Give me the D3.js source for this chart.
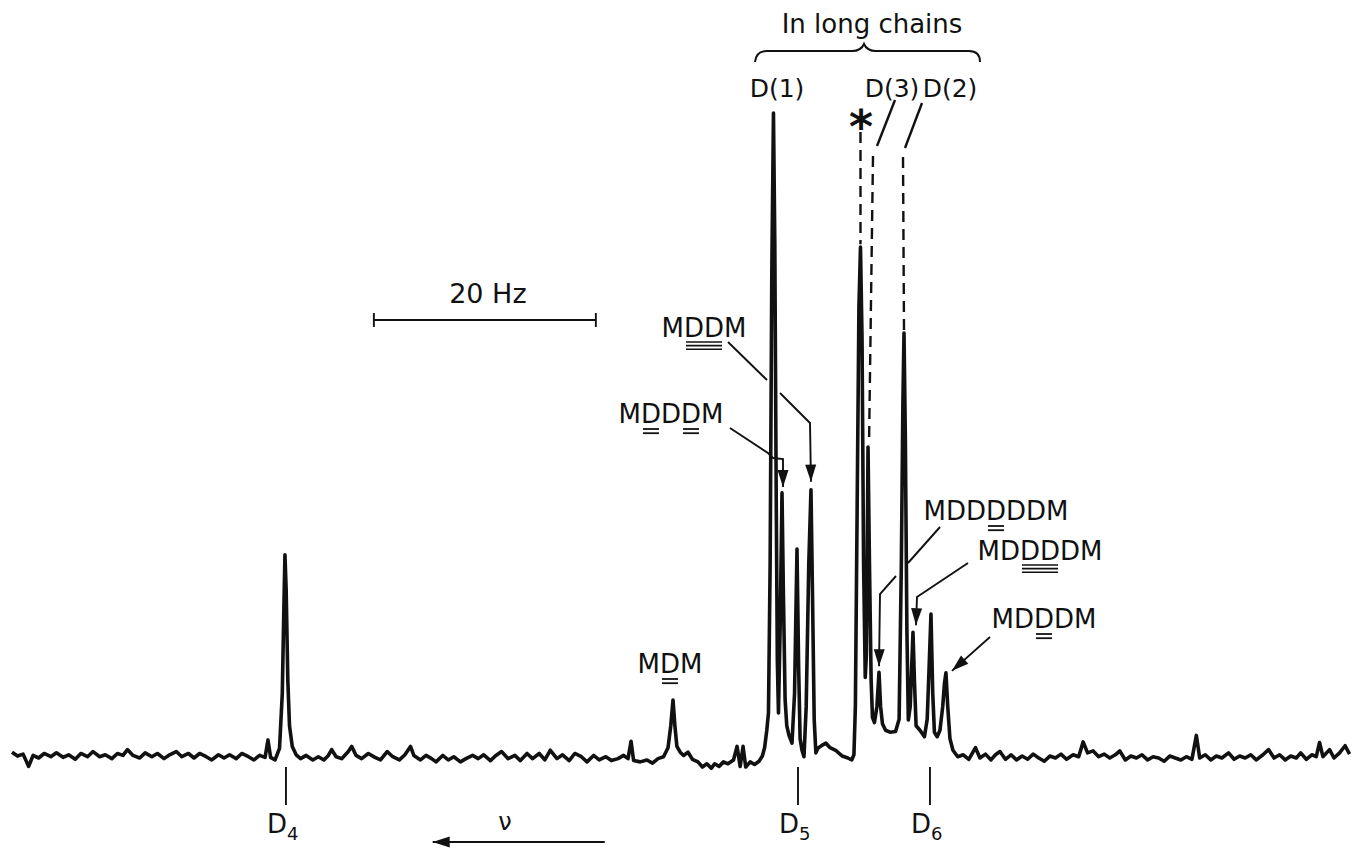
<!DOCTYPE html>
<html>
<head>
<meta charset="utf-8">
<script src="https://cdn.jsdelivr.net/npm/d3@7"></script>
<style>
  body { margin: 0; background: #fff; }
  text { font-family: "DejaVu Sans", sans-serif; fill: #111; }
</style>
</head>
<body>
<div id="chart"></div>
<script>
// spectrum trace: [frequency offset in Hz, relative intensity]
var spectrum = [
  [0.0,0.9],[0.5,0.3],[1.0,0.6],[1.5,-1.3],[1.9,0.4],[2.4,0.0],[2.9,0.7],[3.5,0.2],[4.0,0.8],[4.6,0.1],
  [5.1,0.5],[5.7,-0.2],[6.2,0.7],[6.8,0.2],[7.3,1.0],[7.9,0.2],[8.4,0.5],[9.0,-0.1],[9.5,0.7],[10.0,0.4],
  [10.4,1.3],[10.9,0.4],[11.5,0.0],[12.0,0.8],[12.6,0.2],[13.1,0.7],[13.7,-0.1],[14.2,0.5],[14.8,1.0],[15.3,0.2],
  [15.9,0.7],[16.4,0.0],[16.9,0.7],[17.5,0.2],[18.0,-0.3],[18.6,0.5],[19.1,0.0],[19.6,0.5],[20.2,-0.1],[20.7,0.7],
  [21.3,0.2],[21.8,-0.3],[22.3,0.4],[22.8,0.1],[23.06,2.8],[23.3,0.1],[23.7,-0.3],[24.1,1.5],[24.35,10],[24.5,24],
  [24.59,31.5],[24.7,26],[24.85,12],[25.0,5],[25.25,1.8],[25.6,0.5],[26.0,-0.1],[26.5,0.4],[27.1,-0.3],[27.6,0.2],
  [28.1,-0.3],[28.5,0.4],[28.8,1.3],[29.2,0.2],[29.7,-0.1],[30.3,1.0],[30.6,1.8],[31.0,0.4],[31.5,-0.1],[32.1,0.7],
  [32.7,0.1],[33.2,-0.3],[33.8,1.0],[34.3,0.2],[34.9,-0.3],[35.4,0.5],[35.9,1.8],[36.2,0.4],[36.8,-0.3],[37.3,0.4],
  [37.8,-0.1],[38.2,-0.6],[38.8,0.4],[39.3,-0.3],[39.8,0.2],[40.4,-0.6],[40.9,-0.1],[41.5,0.4],[42.0,-0.1],[42.5,0.5],
  [43.1,-0.4],[43.6,0.4],[44.1,1.0],[44.7,-0.1],[45.3,0.4],[45.8,-0.4],[46.4,0.7],[46.9,-0.1],[47.5,0.7],[48.0,-0.3],
  [48.5,1.2],[49.1,-0.1],[49.6,0.5],[50.2,-0.4],[50.7,0.7],[51.3,0.2],[51.8,-0.6],[52.4,0.4],[52.9,-0.3],[53.5,0.2],
  [54.0,-0.4],[54.6,-0.1],[55.1,0.4],[55.5,-0.1],[55.77,2.6],[56.0,-0.4],[56.6,-0.6],[57.2,-0.3],[57.7,-0.8],[58.2,-0.1],
  [58.7,0.2],[59.1,1.6],[59.35,5],[59.55,9.0],[59.72,5],[59.9,1.8],[60.2,0.9],[60.5,0.4],[60.9,0.9],[61.3,-0.2],
  [61.8,-0.6],[62.2,-1.4],[62.6,-0.9],[63.0,-1.6],[63.3,-0.9],[63.7,-1.3],[64.1,-0.6],[64.5,-0.9],[65.0,-0.3],[65.32,1.8],
  [65.6,-1.3],[65.86,1.8],[66.1,-1.4],[66.5,-0.6],[66.9,-1.0],[67.3,-0.5],[67.6,0.3],[67.8,1.6],[68.0,4.3],[68.15,7.0],
  [68.3,30],[68.45,75],[68.6,100],[68.72,80],[68.85,40],[68.95,15],[69.05,7.0],[69.2,20],[69.37,41.1],[69.5,25],
  [69.65,9],[69.8,5],[70.0,3.5],[70.27,2.3],[70.5,10],[70.72,32.4],[70.87,14],[71.0,3],[71.17,1.2],[71.35,0.2],
  [71.55,8],[71.78,30],[71.98,41.6],[72.12,25],[72.27,6],[72.42,0.8],[72.6,1.5],[73.0,2.0],[73.33,2.3],[73.7,1.6],
  [74.2,1.2],[74.8,0.3],[75.3,0.0],[75.65,-0.3],[75.85,0.5],[75.98,8],[76.12,35],[76.3,70],[76.44,79.2],[76.58,65],
  [76.72,30],[76.87,12.5],[76.97,16],[77.03,28],[77.12,48.2],[77.25,30],[77.4,12],[77.52,6.3],[77.7,5.5],[77.92,8],
  [78.11,13.3],[78.25,8],[78.42,5.3],[78.7,4.3],[79.1,4.0],[79.6,4.1],[79.92,6],[80.12,30],[80.26,55],[80.36,65.9],
  [80.48,50],[80.62,20],[80.75,5.9],[80.92,8],[81.05,14],[81.17,19.5],[81.3,12],[81.45,5],[81.8,4.3],[82.2,3.3],
  [82.45,6],[82.62,14],[82.79,22.3],[82.95,10],[83.1,4],[83.35,3.3],[83.6,4.3],[83.85,8],[84.0,11.5],[84.14,13.2],
  [84.3,8],[84.5,3],[84.77,1.2],[85.2,0.2],[85.7,0.5],[86.2,-0.2],[86.8,1.6],[87.2,0.0],[87.7,0.6],[88.2,-0.3],
  [88.6,0.5],[89.0,1.0],[89.5,-0.2],[90.0,0.5],[90.5,-0.3],[91.0,0.3],[91.5,-0.2],[92.0,0.6],[92.5,0.0],[93.0,-0.5],
  [93.5,0.3],[94.0,0.0],[94.5,0.6],[95.0,-0.2],[95.6,0.5],[96.1,0.2],[96.5,2.5],[96.9,0.8],[97.4,1.1],[97.9,0.2],
  [98.4,0.6],[98.9,0.0],[99.4,0.5],[99.8,1.1],[100.3,-0.3],[100.8,0.3],[101.3,0.0],[101.8,0.5],[102.3,-0.3],[102.8,0.2],
  [103.3,0.0],[103.8,-0.5],[104.3,0.3],[104.8,0.0],[105.3,-0.3],[105.8,0.2],[106.3,-0.2],[106.7,3.5],[107.0,0.0],[107.5,0.5],
  [108.0,-0.3],[108.5,0.3],[109.0,0.0],[109.6,0.8],[110.1,-0.2],[110.6,0.3],[111.1,0.0],[111.6,0.5],[112.1,-0.3],[112.7,0.5],
  [113.2,1.3],[113.7,0.0],[114.2,0.5],[114.7,-0.3],[115.2,0.3],[115.7,0.0],[116.1,0.8],[116.6,-0.2],[117.1,0.5],[117.5,0.2],
  [117.8,2.4],[118.1,0.2],[118.7,1.3],[119.1,0.0],[119.6,0.8],[120.1,1.9],[120.5,0.6]
];

// assigned peaks (Hz, intensity at the top)
var peakNames = ["D(1)", "*", "D(3)", "D(2)"];
var peakHz    = [68.6, 76.44, 77.12, 80.36];
var peakInt   = [100, 79.2, 48.2, 65.9];

// oligomer peaks pointed at by arrows
var arrowLabels = ["MDDM", "MDDDM", "MDDDDDM", "MDDDDM", "MDDDM"];
var arrowHz     = [71.98, 69.37, 78.11, 81.17, 84.14];
var arrowInt    = [41.6, 41.1, 13.3, 19.5, 13.2];

// ring markers under the baseline
var ringLabels = ["4", "5", "6"];
var ringHz     = [24.68, 70.81, 82.7];

var scaleBarHz = 20;

var width = 1355,
    height = 848,
    ink = "#111";

var svg = d3.select("#chart").append("svg")
    .attr("width", width)
    .attr("height", height)
    .style("background", "#fff");

var x = d3.scaleLinear().domain([0, 120]).range([12, 1344]);
var y = d3.scaleLinear().domain([0, 100]).range([758, 113]);

// the trace
svg.append("path")
    .datum(spectrum)
    .attr("d", d3.line().x(d => x(d[0])).y(d => y(d[1])))
    .attr("fill", "none")
    .attr("stroke", ink)
    .attr("stroke-width", 3.6)
    .attr("stroke-linejoin", "round");

function poly(pts, w) {
    svg.append("path")
        .attr("d", d3.line()(pts))
        .attr("fill", "none")
        .attr("stroke", ink)
        .attr("stroke-width", w || 1.9);
}

// line with a filled arrow head at its last point
function arrow(pts) {
    poly(pts);
    var tip = pts[pts.length - 1], from = pts[pts.length - 2];
    var a = Math.atan2(tip[1] - from[1], tip[0] - from[0]);
    var L = 17, W = 5.5;
    var bx = tip[0] - L * Math.cos(a), by = tip[1] - L * Math.sin(a);
    svg.append("path")
        .attr("d", d3.line()([tip,
            [bx - W * Math.sin(a), by + W * Math.cos(a)],
            [bx + W * Math.sin(a), by - W * Math.cos(a)]]) + "Z")
        .attr("fill", ink);
}

// label with double (2) or triple (3) underlines below runs of characters
function label(txt, cx, base, under, lines) {
    var t = svg.append("text")
        .attr("x", cx).attr("y", base)
        .attr("text-anchor", "middle")
        .attr("font-size", 26)
        .text(txt);
    // group adjacent characters into one run
    var runs = [];
    under.forEach(function(i) {
        var last = runs[runs.length - 1];
        if (last && last[1] === i - 1) last[1] = i; else runs.push([i, i]);
    });
    runs.forEach(function(r) {
        var a = t.node().getExtentOfChar(r[0]), b = t.node().getExtentOfChar(r[1]);
        for (var k = 0; k < lines; k++) {
            var yy = base + (lines === 3 ? 5 + k * 3.6 : 6 + k * 4.2);
            poly([[a.x + 2, yy], [b.x + b.width - 2, yy]], lines === 3 ? 1.6 : 1.8);
        }
    });
}

// "In long chains" brace and the peak names above the cluster
svg.append("text").attr("x", 872).attr("y", 33).attr("text-anchor", "middle")
    .attr("font-size", 26).text("In long chains");
svg.append("path")
    .attr("d", "M755,62 Q756,51 767,51 L852,51 Q861,51 864,44 Q867,51 876,51 L969,51 Q980,51 980,62")
    .attr("fill", "none").attr("stroke", ink).attr("stroke-width", 2);

svg.append("text").attr("x", 777).attr("y", 97).attr("text-anchor", "middle")
    .attr("font-size", 25).text(peakNames[0]);
svg.append("text").attr("x", 861).attr("y", 143).attr("text-anchor", "middle")
    .attr("font-size", 46).attr("font-weight", "bold").text(peakNames[1]);
svg.append("text").attr("x", 892).attr("y", 97).attr("text-anchor", "middle")
    .attr("font-size", 25).text(peakNames[2]);
svg.append("text").attr("x", 950).attr("y", 97).attr("text-anchor", "middle")
    .attr("font-size", 25).text(peakNames[3]);

// dashed leads down to the peaks
function dashed(x1, y1, x2, y2) {
    svg.append("line")
        .attr("x1", x1).attr("y1", y1).attr("x2", x2).attr("y2", y2)
        .attr("stroke", ink).attr("stroke-width", 2.4)
        .attr("stroke-dasharray", "11,7");
}
dashed(x(peakHz[1]), 132, x(peakHz[1]), y(peakInt[1]) - 3);
poly([[895, 100], [877, 146]], 2.4);
dashed(873, 156, x(peakHz[2]) + 1, y(peakInt[2]) - 3);
poly([[922, 103], [905, 148]], 2.4);
dashed(903, 157, x(peakHz[3]), y(peakInt[3]) - 3);

// 20 Hz scale bar
var sb0 = x(32.6), sb1 = x(32.6 + scaleBarHz);
poly([[sb0, 320], [sb1, 320]]);
poly([[sb0, 313], [sb0, 327]]);
poly([[sb1, 313], [sb1, 327]]);
svg.append("text").attr("x", (sb0 + sb1) / 2 + 3).attr("y", 303).attr("text-anchor", "middle")
    .attr("font-size", 27).text(scaleBarHz + " Hz");

// oligomer labels and arrows
label(arrowLabels[0], 704, 337, [1, 2], 3);
poly([[728, 342], [767, 380]]);
arrow([[780, 393], [810, 423], [x(arrowHz[0]), y(arrowInt[0]) - 8]]);

label(arrowLabels[1], 671, 423, [1, 3], 2);
arrow([[730, 428], [768, 453], [773, 458], [783, 459], [x(arrowHz[1]) + 1, y(arrowInt[1]) - 6]]);

label("MDM", 670, 673, [1], 2);

label(arrowLabels[2], 996, 520, [3], 2);
poly([[940, 527], [908, 563]]);
arrow([[896, 576], [880, 594], [x(arrowHz[2]), y(arrowInt[2]) - 6]]);

label(arrowLabels[3], 1040, 560, [2, 3], 3);
arrow([[968, 563], [917, 597], [x(arrowHz[3]) + 3, y(arrowInt[3]) - 7]]);

label(arrowLabels[4], 1044, 628, [2], 2);
arrow([[990, 637], [x(arrowHz[4]) + 6, y(arrowInt[4]) - 2]]);

// D4, D5, D6 ring markers
ringHz.forEach(function(hz, i) {
    var px = x(hz);
    poly([[px, y(0) + 9], [px, y(0) + 47]]);
    var t = svg.append("text").attr("x", px - 19).attr("y", 833).attr("font-size", 26);
    t.append("tspan").text("D");
    t.append("tspan").attr("font-size", 18).attr("dy", 7).text(ringLabels[i]);
});

// frequency direction
svg.append("text").attr("x", 505).attr("y", 830).attr("text-anchor", "middle")
    .attr("font-size", 24).text("ν");
arrow([[x(53.4), 842], [x(37.9), 842]]);
</script>
</body>
</html>
